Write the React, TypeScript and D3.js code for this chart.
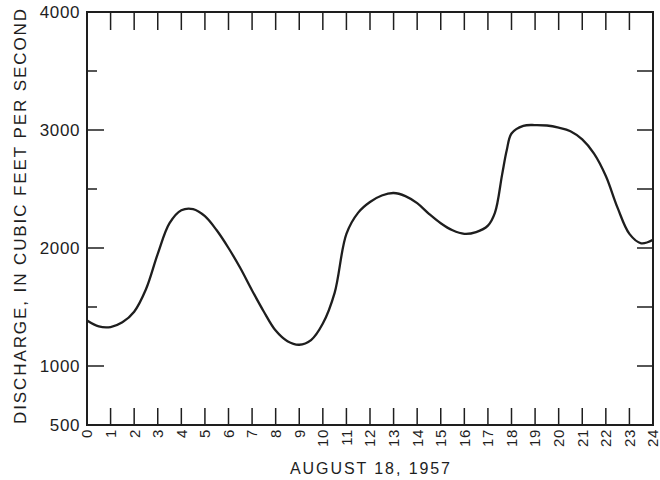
import React from "react";
import * as d3 from "d3";

const hours = [0, 0.5, 1, 1.5, 2, 2.5, 3, 3.5, 4, 4.5, 5, 5.5, 6, 6.5, 7, 7.5, 8, 8.5, 9, 9.5, 10, 10.5, 11, 11.5, 12, 12.5, 13, 13.5, 14, 14.5, 15, 15.5, 16, 16.5, 17, 17.3, 17.6, 17.8, 18, 18.5, 19, 19.5, 20, 20.5, 21, 21.5, 22, 22.5, 23, 23.5, 24];
const discharge = [1385, 1335, 1330, 1370, 1460, 1650, 1950, 2210, 2320, 2330, 2270, 2150, 2000, 1830, 1640, 1460, 1300, 1210, 1180, 1220, 1360, 1620, 2120, 2300, 2390, 2445, 2466, 2440, 2380, 2290, 2210, 2150, 2120, 2135, 2190, 2300, 2620, 2830, 2970, 3035, 3042, 3038, 3020, 2990, 2920, 2800, 2610, 2340, 2120, 2040, 2070];

const xTickHours = d3.range(0, 25);
const yLabelValues = [500, 1000, 2000, 3000, 4000];
const yMajorTicks = [1000, 2000, 3000];
const yMinorTicks = [1500, 2500, 3500];
const yRightTicks = [1000, 1500, 2000, 2500, 3000, 3500];

const xTitle = "AUGUST 18, 1957";
const yTitle = "DISCHARGE, IN CUBIC FEET PER SECOND";

const W = 660;
const H = 480;
const L = 87;
const R = 653;
const T = 12;
const B = 425;
const ink = "#1e1e1e";
const font = "'Liberation Sans', Arial, Helvetica, sans-serif";

export default function App() {
  const x = d3.scaleLinear().domain([0, 24]).range([L, R]);
  const y = d3.scaleLinear().domain([500, 4000]).range([B, T]);
  const pts: [number, number][] = hours.map((h, i) => [h, discharge[i]]);
  const line = d3
    .line<[number, number]>()
    .x((d) => x(d[0]))
    .y((d) => y(d[1]))
    .curve(d3.curveCatmullRom.alpha(0.5));

  return (
    <svg
      width={W}
      height={H}
      viewBox={`0 0 ${W} ${H}`}
      style={{ position: "absolute", left: 0, top: 0, background: "#fff" }}
      fontFamily={font}
    >
      <rect x={0} y={0} width={W} height={H} fill="#fff" />
      {xTickHours.slice(1, -1).map((h) => (
        <g key={"xt" + h} stroke={ink} strokeWidth={1.5}>
          <line x1={x(h)} x2={x(h)} y1={T} y2={T + 18} />
          <line x1={x(h)} x2={x(h)} y1={B} y2={B - 17} />
        </g>
      ))}
      {yMajorTicks.map((v) => (
        <line key={"lm" + v} x1={L} x2={L + 17} y1={y(v)} y2={y(v)} stroke={ink} strokeWidth={1.5} />
      ))}
      {yMinorTicks.map((v) => (
        <line key={"ln" + v} x1={L} x2={L + 10} y1={y(v)} y2={y(v)} stroke={ink} strokeWidth={1.5} />
      ))}
      {yRightTicks.map((v) => (
        <line key={"r" + v} x1={R - 16} x2={R} y1={y(v)} y2={y(v)} stroke={ink} strokeWidth={1.5} />
      ))}
      <rect x={L} y={T} width={R - L} height={B - T} fill="none" stroke={ink} strokeWidth={2} />
      <path d={line(pts) || ""} fill="none" stroke={ink} strokeWidth={2.3} strokeLinejoin="round" />
      {yLabelValues.map((v) => (
        <text
          key={"yl" + v}
          x={80}
          y={y(v)}
          dy="0.36em"
          textAnchor="end"
          fontSize={17}
          letterSpacing={0.6}
          fill={ink}
        >
          {v}
        </text>
      ))}
      {xTickHours.map((h) => (
        <text
          key={"xl" + h}
          transform={`translate(${x(h)},429) rotate(-90)`}
          dy="0.36em"
          textAnchor="end"
          fontSize={15}
          letterSpacing={0.6}
          fill={ink}
        >
          {h}
        </text>
      ))}
      <text
        x={370}
        y={474}
        textAnchor="middle"
        fontSize={16}
        textLength={160}
        lengthAdjust="spacing"
        fill={ink}
      >
        {xTitle}
      </text>
      <text
        transform={`translate(26,${(8 + 425) / 2}) rotate(-90)`}
        textAnchor="middle"
        fontSize={17}
        textLength={415}
        lengthAdjust="spacing"
        fill={ink}
      >
        {yTitle}
      </text>
    </svg>
  );
}
